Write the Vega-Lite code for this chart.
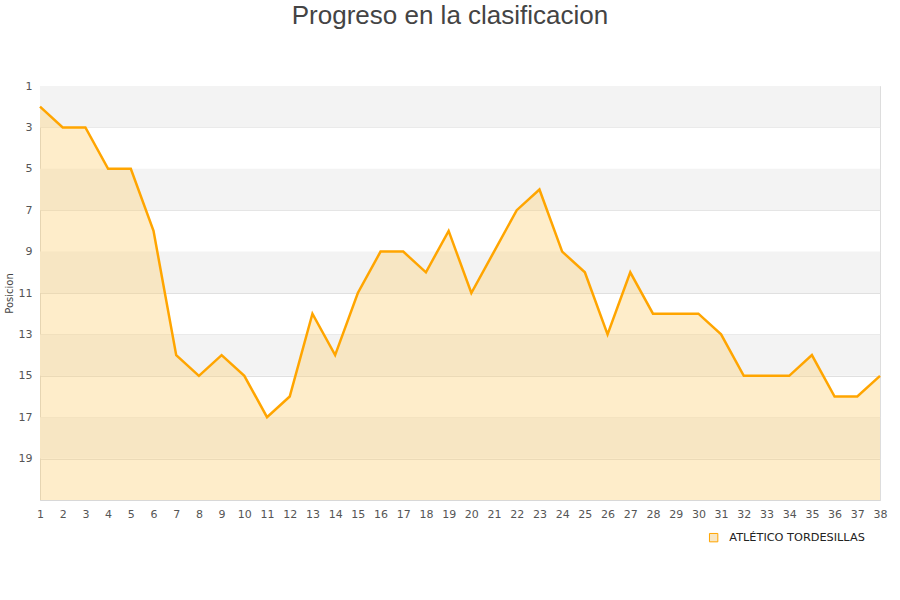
{
  "$schema": "https://vega.github.io/schema/vega-lite/v6.json",
  "width": 840,
  "height": 414,
  "autosize": {"type": "none"},
  "padding": {"left": 40, "top": 86, "right": 20, "bottom": 100},
  "background": "white",
  "title": {
    "text": "Progreso en la clasificacion",
    "fontSize": 26,
    "font": "Liberation Sans",
    "fontWeight": "normal",
    "color": "#444444",
    "anchor": "middle",
    "offset": 51,
    "dx": -10
  },
  "config": {
    "view": {"stroke": "#dddddd", "strokeWidth": 1},
    "font": "DejaVu Sans",
    "axisX": {"labelOverlap": false, "labelFlush": false, "labelBound": false}
  },
  "datasets": {
    "bands": [
      {"y": 1, "y2": 3},
      {"y": 5, "y2": 7},
      {"y": 9, "y2": 11},
      {"y": 13, "y2": 15},
      {"y": 17, "y2": 19}
    ],
    "pos": [
      {"jornada": 1, "posicion": 2, "equipo": "ATLÉTICO TORDESILLAS"},
      {"jornada": 2, "posicion": 3, "equipo": "ATLÉTICO TORDESILLAS"},
      {"jornada": 3, "posicion": 3, "equipo": "ATLÉTICO TORDESILLAS"},
      {"jornada": 4, "posicion": 5, "equipo": "ATLÉTICO TORDESILLAS"},
      {"jornada": 5, "posicion": 5, "equipo": "ATLÉTICO TORDESILLAS"},
      {"jornada": 6, "posicion": 8, "equipo": "ATLÉTICO TORDESILLAS"},
      {"jornada": 7, "posicion": 14, "equipo": "ATLÉTICO TORDESILLAS"},
      {"jornada": 8, "posicion": 15, "equipo": "ATLÉTICO TORDESILLAS"},
      {"jornada": 9, "posicion": 14, "equipo": "ATLÉTICO TORDESILLAS"},
      {"jornada": 10, "posicion": 15, "equipo": "ATLÉTICO TORDESILLAS"},
      {"jornada": 11, "posicion": 17, "equipo": "ATLÉTICO TORDESILLAS"},
      {"jornada": 12, "posicion": 16, "equipo": "ATLÉTICO TORDESILLAS"},
      {"jornada": 13, "posicion": 12, "equipo": "ATLÉTICO TORDESILLAS"},
      {"jornada": 14, "posicion": 14, "equipo": "ATLÉTICO TORDESILLAS"},
      {"jornada": 15, "posicion": 11, "equipo": "ATLÉTICO TORDESILLAS"},
      {"jornada": 16, "posicion": 9, "equipo": "ATLÉTICO TORDESILLAS"},
      {"jornada": 17, "posicion": 9, "equipo": "ATLÉTICO TORDESILLAS"},
      {"jornada": 18, "posicion": 10, "equipo": "ATLÉTICO TORDESILLAS"},
      {"jornada": 19, "posicion": 8, "equipo": "ATLÉTICO TORDESILLAS"},
      {"jornada": 20, "posicion": 11, "equipo": "ATLÉTICO TORDESILLAS"},
      {"jornada": 21, "posicion": 9, "equipo": "ATLÉTICO TORDESILLAS"},
      {"jornada": 22, "posicion": 7, "equipo": "ATLÉTICO TORDESILLAS"},
      {"jornada": 23, "posicion": 6, "equipo": "ATLÉTICO TORDESILLAS"},
      {"jornada": 24, "posicion": 9, "equipo": "ATLÉTICO TORDESILLAS"},
      {"jornada": 25, "posicion": 10, "equipo": "ATLÉTICO TORDESILLAS"},
      {"jornada": 26, "posicion": 13, "equipo": "ATLÉTICO TORDESILLAS"},
      {"jornada": 27, "posicion": 10, "equipo": "ATLÉTICO TORDESILLAS"},
      {"jornada": 28, "posicion": 12, "equipo": "ATLÉTICO TORDESILLAS"},
      {"jornada": 29, "posicion": 12, "equipo": "ATLÉTICO TORDESILLAS"},
      {"jornada": 30, "posicion": 12, "equipo": "ATLÉTICO TORDESILLAS"},
      {"jornada": 31, "posicion": 13, "equipo": "ATLÉTICO TORDESILLAS"},
      {"jornada": 32, "posicion": 15, "equipo": "ATLÉTICO TORDESILLAS"},
      {"jornada": 33, "posicion": 15, "equipo": "ATLÉTICO TORDESILLAS"},
      {"jornada": 34, "posicion": 15, "equipo": "ATLÉTICO TORDESILLAS"},
      {"jornada": 35, "posicion": 14, "equipo": "ATLÉTICO TORDESILLAS"},
      {"jornada": 36, "posicion": 16, "equipo": "ATLÉTICO TORDESILLAS"},
      {"jornada": 37, "posicion": 16, "equipo": "ATLÉTICO TORDESILLAS"},
      {"jornada": 38, "posicion": 15, "equipo": "ATLÉTICO TORDESILLAS"}
    ]
  },
  "layer": [
    {
      "data": {"name": "bands"},
      "mark": {"type": "rect", "fill": "#f3f3f3"},
      "encoding": {
        "y": {"field": "y", "type": "quantitative", "scale": {"domain": [1, 21], "reverse": true, "nice": false, "zero": false}},
        "y2": {"field": "y2"}
      }
    },
    {
      "data": {"name": "pos"},
      "mark": {"type": "area", "fill": "#fdd27a", "fillOpacity": 0.4, "clip": true},
      "encoding": {
        "x": {
          "field": "jornada",
          "type": "quantitative",
          "scale": {"domain": [1, 38], "nice": false, "zero": false},
          "axis": {
            "title": null,
            "values": [1,2,3,4,5,6,7,8,9,10,11,12,13,14,15,16,17,18,19,20,21,22,23,24,25,26,27,28,29,30,31,32,33,34,35,36,37,38],
            "labelFontSize": 11,
            "labelColor": "#555555",
            "labelPadding": 8,
            "ticks": false,
            "domainColor": "#d8d8d8",
            "grid": false,
            "labelFlush": false,
            "labelOverlap": false
          }
        },
        "y": {"field": "posicion", "type": "quantitative"},
        "y2": {"datum": 21}
      }
    },
    {
      "data": {"name": "pos"},
      "mark": {"type": "line", "stroke": "#ffa500", "strokeWidth": 2.5},
      "encoding": {
        "x": {
          "field": "jornada",
          "type": "quantitative",
          "scale": {"domain": [1, 38], "nice": false, "zero": false},
          "axis": {
            "title": null,
            "values": [1,2,3,4,5,6,7,8,9,10,11,12,13,14,15,16,17,18,19,20,21,22,23,24,25,26,27,28,29,30,31,32,33,34,35,36,37,38],
            "labelFontSize": 11,
            "labelColor": "#555555",
            "labelPadding": 8,
            "ticks": false,
            "domainColor": "#d8d8d8",
            "grid": false,
            "labelFlush": false,
            "labelOverlap": false
          }
        },
        "y": {
          "field": "posicion",
          "type": "quantitative",
          "scale": {"domain": [1, 21], "reverse": true, "nice": false, "zero": false},
          "axis": {
            "title": "Posicion",
            "titleFontSize": 10,
            "titleFontWeight": "normal",
            "titleColor": "#444444",
            "titlePadding": 4,
            "values": [1, 3, 5, 7, 9, 11, 13, 15, 17, 19],
            "labelFontSize": 11,
            "labelColor": "#555555",
            "labelPadding": 8,
            "ticks": false,
            "domainColor": "#d8d8d8",
            "grid": true,
            "gridColor": "#e0e0e0",
            "labelFlush": false
          }
        },
        "color": {
          "field": "equipo",
          "type": "nominal",
          "scale": {"range": ["#ffa500"]},
          "legend": {
            "title": null,
            "orient": "none",
            "legendX": 668,
            "legendY": 446,
            "symbolType": "square",
            "symbolSize": 70,
            "symbolFillColor": "#f8e6c2",
            "symbolStrokeColor": "#8c7a5c",
            "symbolStrokeWidth": 1,
            "labelOffset": 10,
            "labelFontSize": 11.3,
            "labelColor": "#222222",
            "labelFont": "DejaVu Sans"
          }
        }
      }
    }
  ]
}
